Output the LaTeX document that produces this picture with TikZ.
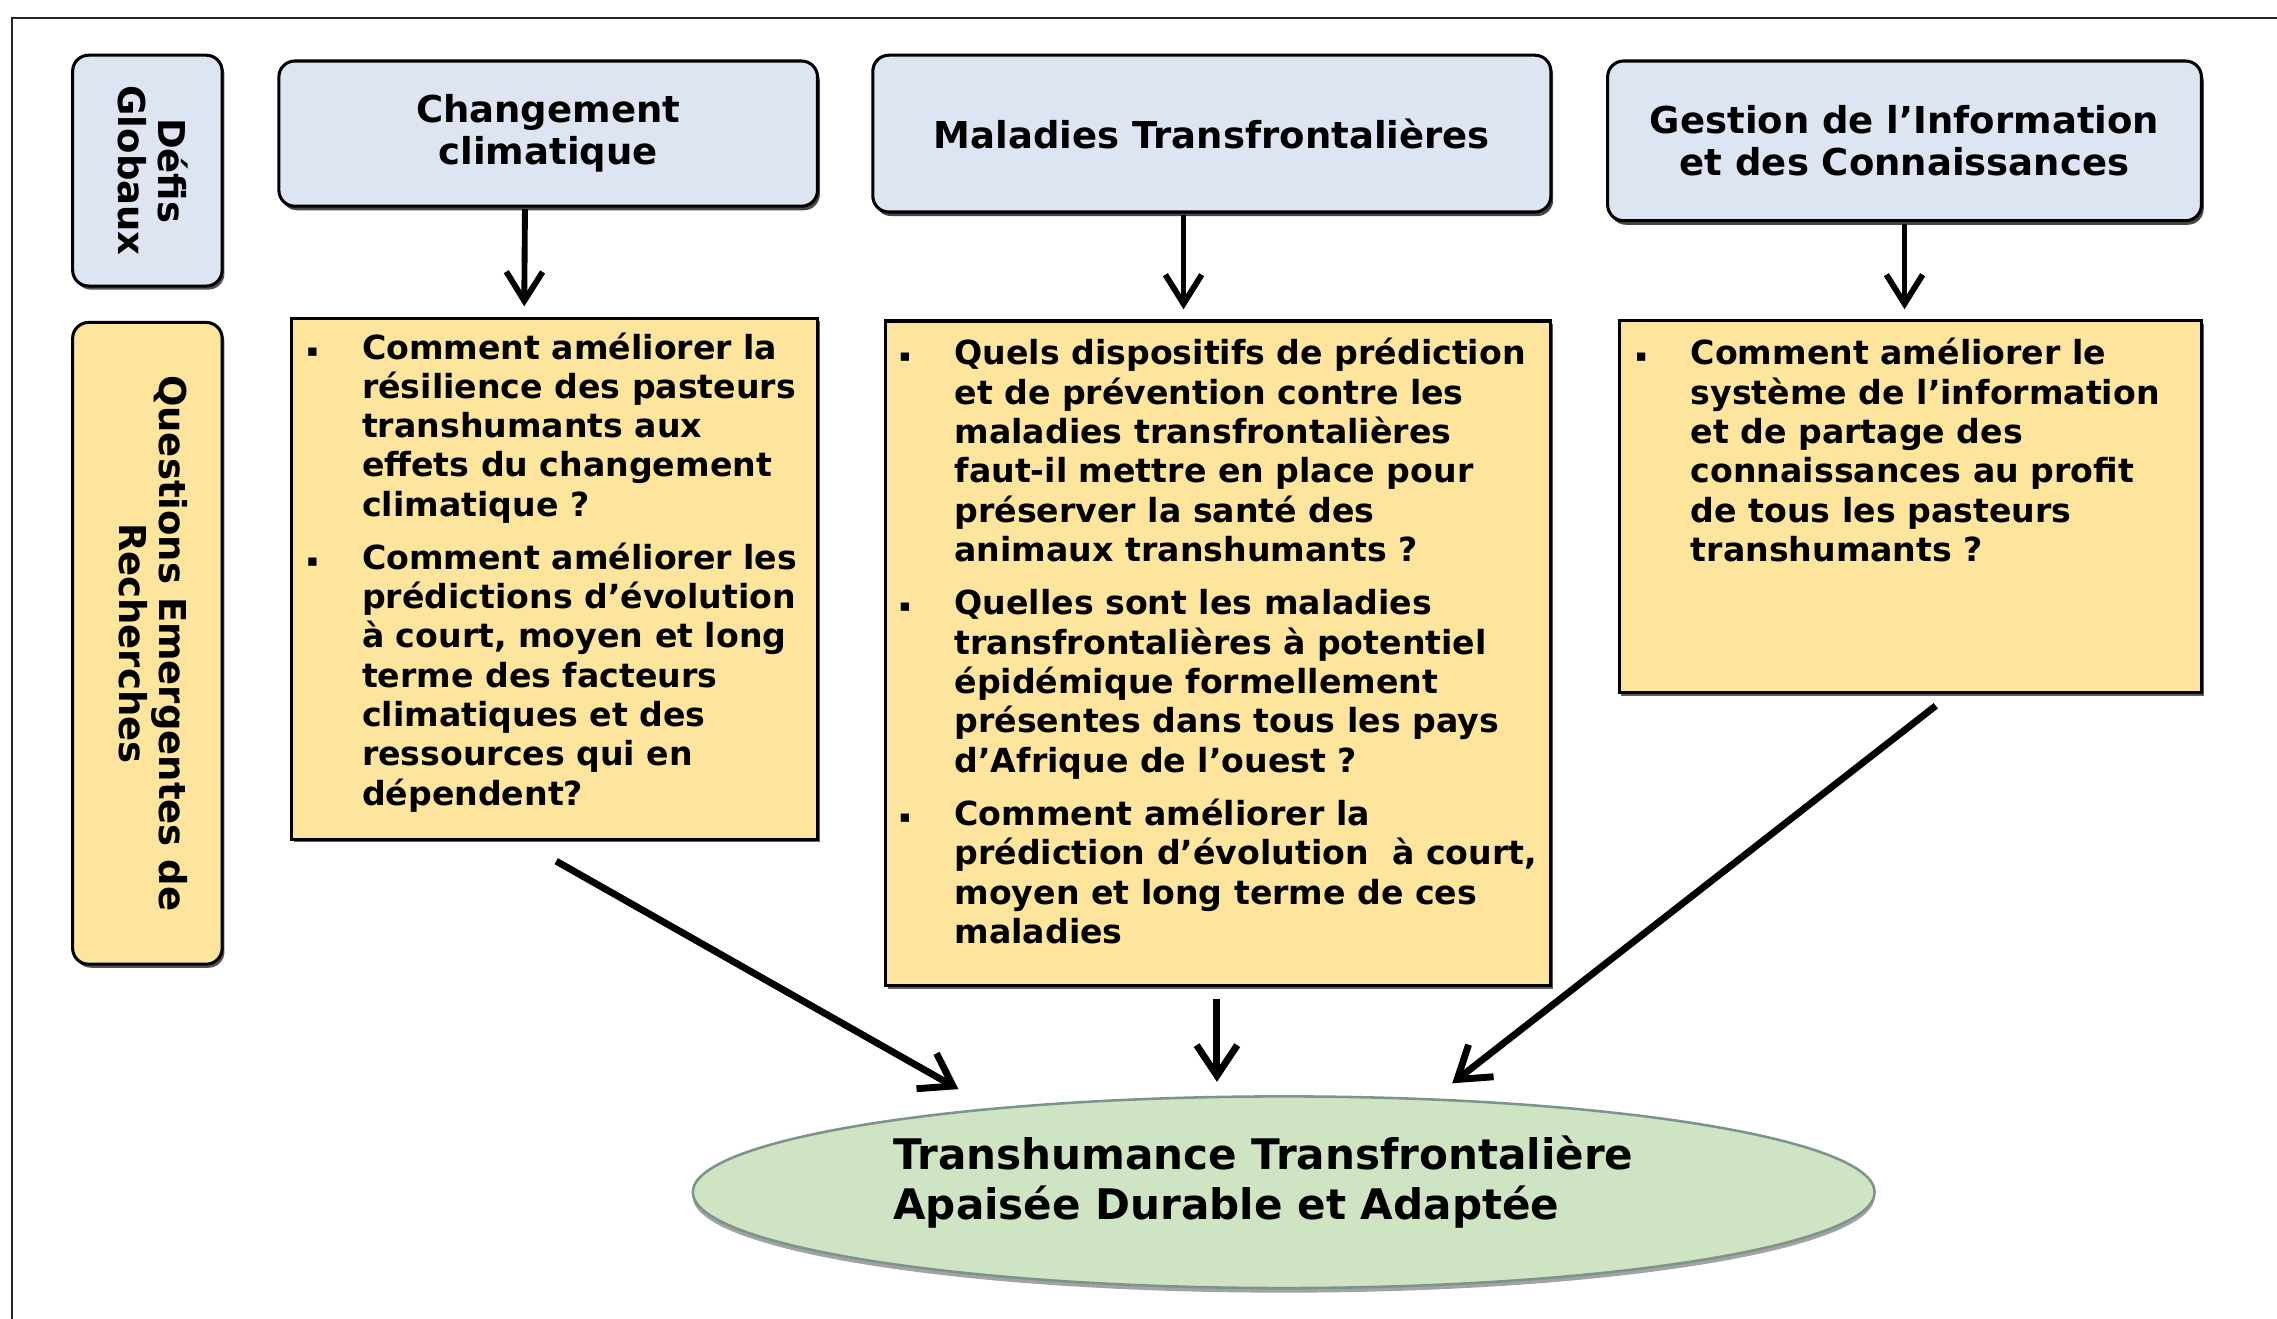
\documentclass[tikz,border=0pt]{standalone}
\usepackage{fontspec}
\usepackage{graphicx}
\setmainfont{DejaVu Sans}
\usetikzlibrary{arrows.meta,calc,shapes.geometric,shadows}

\definecolor{defiblue}{RGB}{221,228,242}
\definecolor{qyellow}{RGB}{253,229,157}
\definecolor{goalgreen}{RGB}{207,228,194}
\definecolor{goaledge}{RGB}{125,148,140}

% small square bullet followed by the hanging indent
\newcommand{\qbul}{\makebox[0.76cm][l]{\fontsize{6.5}{6.5}\selectfont\raisebox{1.2pt}{▪}}}

\tikzset{
  defibox/.style={draw=black, line width=1.2pt, fill=defiblue, rounded corners=0.22cm,
    drop shadow={shadow xshift=0.9pt, shadow yshift=-1.6pt, fill=black!80, opacity=0.9},
    inner sep=0pt, align=center, font=\fontsize{14.5}{16.5}\selectfont\bfseries},
  sidebox/.style={draw=black, line width=1.2pt, rounded corners=0.22cm,
    drop shadow={shadow xshift=0.9pt, shadow yshift=-1.4pt, fill=black!75, opacity=0.9},
    inner sep=0pt, font=\fontsize{14.5}{15.8}\selectfont\bfseries},
  qbox/.style={draw=black, line width=1.2pt, fill=qyellow, inner sep=0pt,
    drop shadow={shadow xshift=0.8pt, shadow yshift=-1.2pt, fill=black!70, opacity=0.9}},
  qtext/.style={inner sep=0pt, anchor=north west, font=\fontsize{13}{15.4}\selectfont\bfseries},
  goalbox/.style={ellipse, draw=goaledge, line width=1pt, fill=goalgreen, inner sep=0pt,
    drop shadow={shadow xshift=0pt, shadow yshift=-1.8pt, fill=black!45, opacity=0.8}},
  goaltext/.style={inner sep=0pt, align=left, font=\fontsize{16.5}{19.4}\selectfont\bfseries},
  toparrow/.style={line width=2.3pt, -{Straight Barb[length=0.4cm, width=0.5cm]}},
  diagarrow/.style={line width=2.7pt, -{Straight Barb[length=0.42cm, width=0.56cm]}},
}

\begin{document}
\begin{tikzpicture}[x=0.02cm, y=-0.02cm]
\useasboundingbox (0,0) rectangle (1568,908);
\clip (0,0) rectangle (1568,908);

% outer frame (only its top and left sides fall inside the page)
\draw[line width=0.9pt, black!85] (8.5,930) -- (8.5,12.5) -- (1590,12.5);

% row labels
\node[sidebox, fill=defiblue, minimum width=2.06cm, minimum height=3.18cm] (dg) at (101.5,117.5)
  {\rotatebox{-90}{\begin{tabular}{@{}c@{}}Défis\\Globaux\end{tabular}}};
\node[sidebox, fill=qyellow, minimum width=2.06cm, minimum height=8.84cm] (qr) at (101.5,443)
  {\rotatebox{-90}{\begin{tabular}{@{}c@{}}Questions Emergentes de\\Recherches\end{tabular}}};

% global challenges
\node[defibox, minimum width=7.42cm, minimum height=2.0cm] (cc) at (377.5,92)
  {Changement\\climatique};
\node[defibox, minimum width=9.34cm, minimum height=2.16cm] (mt) at (834.5,92)
  {Maladies Transfrontalières};
\node[defibox, minimum width=8.18cm, minimum height=2.2cm] (gi) at (1311.5,97)
  {Gestion de l’Information\\et des Connaissances};

% research question boxes
\node[qbox, minimum width=7.24cm, minimum height=7.18cm] (y1) at (382,398.5) {};
\node[qbox, minimum width=9.16cm, minimum height=9.16cm] (y2) at (839,450) {};
\node[qbox, minimum width=8.02cm, minimum height=5.12cm] (y3) at (1315.5,349) {};

\node[qtext] (y1t) at ($(y1.north west)+(11,10)$) {%
\begin{tabular}{@{}l@{}l@{}}
\qbul & Comment améliorer la\\
 & résilience des pasteurs\\
 & transhumants aux\\
 & effets du changement\\
 & climatique ?\\[5.4pt]
\qbul & Comment améliorer les\\
 & prédictions d’évolution\\
 & à court, moyen et long\\
 & terme des facteurs\\
 & climatiques et des\\
 & ressources qui en\\
 & dépendent?
\end{tabular}};

\node[qtext] (y2t) at ($(y2.north west)+(10,12)$) {%
\begin{tabular}{@{}l@{}l@{}}
\qbul & Quels dispositifs de prédiction\\
 & et de prévention contre les\\
 & maladies transfrontalières\\
 & faut-il mettre en place pour\\
 & préserver la santé des\\
 & animaux transhumants ?\\[5.6pt]
\qbul & Quelles sont les maladies\\
 & transfrontalières à potentiel\\
 & épidémique formellement\\
 & présentes dans tous les pays\\
 & d’Afrique de l’ouest ?\\[5.6pt]
\qbul & Comment améliorer la\\
 & prédiction d’évolution\ \ à court,\\
 & moyen et long terme de ces\\
 & maladies
\end{tabular}};

\node[qtext] (y3t) at ($(y3.north west)+(12,12)$) {%
\begin{tabular}{@{}l@{}l@{}}
\qbul & Comment améliorer le\\
 & système de l’information\\
 & et de partage des\\
 & connaissances au profit\\
 & de tous les pasteurs\\
 & transhumants ?
\end{tabular}};

% common goal
\node[goalbox, minimum width=16.28cm, minimum height=2.64cm] (goal) at (884,821) {};
\node[goaltext] (goalt) at ($(goal.center)+(-14,-7)$)
  {Transhumance Transfrontalière\\Apaisée Durable et Adaptée};

% challenges lead to questions
\draw[toparrow] ($(cc.south)+(-16,1)$) -- ($(y1.north)+(-21,-7)$);
\draw[toparrow] ($(mt.south)+(-19.5,1)$) -- ($(y2.north)+(-24,-7)$);
\draw[toparrow] ($(gi.south)+(0,1)$) -- ($(y3.north)+(-4,-7)$);

% questions lead to the goal
\draw[diagarrow] ($(y1.south)+(1,14)$) -- ($(goal.center)+(-224,-71)$);
\draw[diagarrow] ($(y2.south)+(-1,8)$) -- ($(goal.center)+(-46,-76)$);
\draw[diagarrow] ($(y3.south)+(17.5,8)$) -- ($(goal.center)+(116,-75)$);
\end{tikzpicture}
\end{document}
